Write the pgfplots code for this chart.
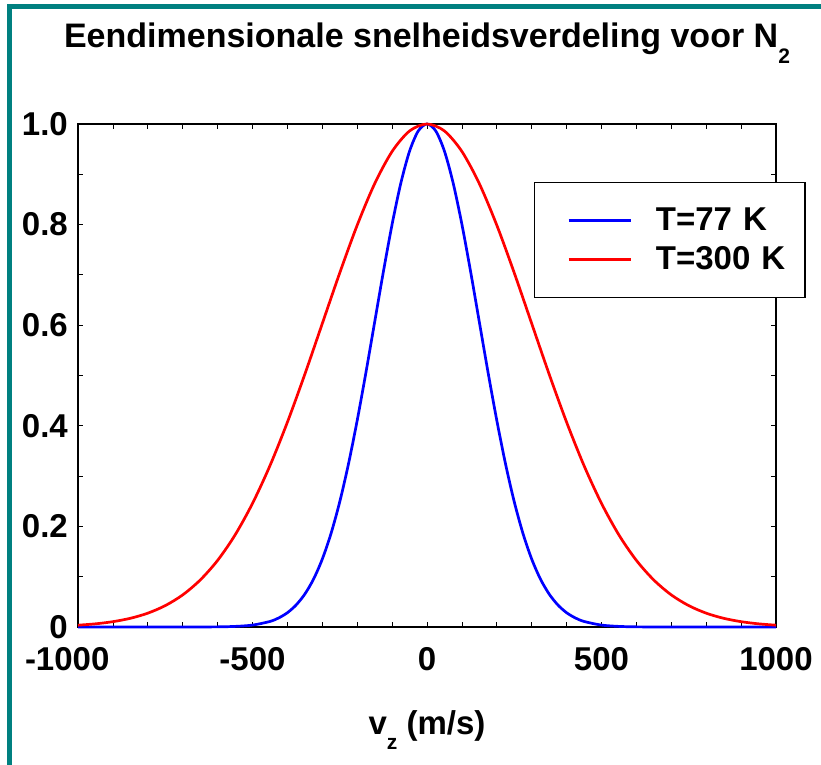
\documentclass[border=0pt]{standalone}
\usepackage{pgfplots}
\pgfplotsset{compat=1.18}
\usepackage{fontspec}
\setmainfont{Liberation Sans}
\definecolor{frameteal}{RGB}{0,128,128}
\newcommand{\bigfont}{\fontsize{33bp}{36bp}\selectfont\bfseries}
\newcommand{\titlefont}{\fontsize{34bp}{36bp}\selectfont\bfseries}
\newcommand{\subfont}{\fontsize{21bp}{21bp}\selectfont\bfseries}
\pgfplotstableread{
v f
-1000 0
-900 0
-800 0
-700 0
-600 0.0003
-550 0.0012
-500 0.0038
-450 0.0110
-425 0.0180
-400 0.0284
-375 0.0438
-350 0.0655
-325 0.0953
-300 0.1350
-275 0.1859
-250 0.2489
-225 0.3242
-200 0.4107
-175 0.5059
-150 0.6061
-125 0.7063
-100 0.8005
-75 0.8824
-50 0.9459
-25 0.9862
0 1
25 0.9862
50 0.9459
75 0.8824
100 0.8005
125 0.7063
150 0.6061
175 0.5059
200 0.4107
225 0.3242
250 0.2489
275 0.1859
300 0.1350
325 0.0953
350 0.0655
375 0.0438
400 0.0284
425 0.0180
450 0.0110
500 0.0038
550 0.0012
600 0.0003
700 0
800 0
900 0
1000 0
}\lowT
\pgfplotstableread{
v f
-1000 0.0036
-950 0.0063
-900 0.0106
-850 0.0173
-800 0.0275
-750 0.0425
-700 0.0638
-650 0.0933
-600 0.1324
-550 0.1829
-500 0.2457
-450 0.3207
-400 0.4072
-350 0.5026
-300 0.6033
-250 0.7040
-200 0.7988
-150 0.8813
-100 0.9454
-50 0.9861
0 1
50 0.9861
100 0.9454
150 0.8813
200 0.7988
250 0.7040
300 0.6033
350 0.5026
400 0.4072
450 0.3207
500 0.2457
550 0.1829
600 0.1324
650 0.0933
700 0.0638
750 0.0425
800 0.0275
850 0.0173
900 0.0106
950 0.0063
1000 0.0036
}\highT
\begin{document}
\begin{tikzpicture}
\path[use as bounding box] (-78bp,-138bp) rectangle (743bp,627bp);
\fill[white] (-78bp,-138bp) rectangle (743bp,627bp);
\fill[frameteal] (-71bp,623bp) rectangle (743bp,618bp);
\fill[frameteal] (-71bp,623bp) rectangle (-66bp,-138bp);
\begin{axis}[
  at={(0,0)}, anchor=south west,
  scale only axis, width=698bp, height=503bp,
  xmin=-1000, xmax=1000, ymin=0, ymax=1,
  clip=false,
  xtick={-1000,-500,0,500,1000},
  xticklabels={\rlap{\hspace*{-53bp}-1000},-500,0,500,1000},
  minor x tick num=4,
  ytick={0,0.2,0.4,0.6,0.8,1.0},
  yticklabels={0,0.2,0.4,0.6,0.8,1.0},
  minor y tick num=1,
  tick align=inside,
  major tick length=5bp, minor tick length=5bp,
  every tick/.style={black, line width=0.8bp},
  axis line style={black, line width=1.3bp},
  tick label style={font=\bigfont},
  xticklabel style={anchor=base, yshift=-43bp, inner sep=0pt},
  yticklabel style={anchor=east, xshift=-10bp, inner sep=0pt},
  title={Eendimensionale snelheidsverdeling voor N\raisebox{-16bp}{\subfont 2}},
  title style={font=\titlefont, at={(rel axis cs:0.5,1)}, anchor=base, yshift=71bp, inner sep=0pt},
  xlabel={v\raisebox{-15bp}{\subfont z} (m/s)},
  xlabel style={font=\bigfont, at={(rel axis cs:0.5,0)}, anchor=base, yshift=-107bp, inner sep=0pt},
  legend style={at={(rel axis cs:0.6533,0.8847)}, anchor=north west,
    draw=black, line width=1.2bp, fill=white,
    inner xsep=0pt, inner ysep=18.5bp, row sep=0pt, column sep=24bp,
    font=\bigfont,
    nodes={inner sep=0pt, text height=29.5bp, text depth=9.5bp, text width=149bp, align=left}},
  legend image code/.code={%
    \path[draw=none, fill=none] (0bp,-19.5bp) rectangle (96bp,19.5bp);
    \draw[#1, line width=2.7bp] (34bp,0bp) -- (96bp,0bp);},
]
\addplot[blue, line width=2.7bp, smooth] table[x=v, y=f] {\lowT};
\addlegendentry{T=77 K}
\addplot[red, line width=2.7bp, smooth] table[x=v, y=f] {\highT};
\addlegendentry{T=300 K}
\end{axis}
\end{tikzpicture}
\end{document}
